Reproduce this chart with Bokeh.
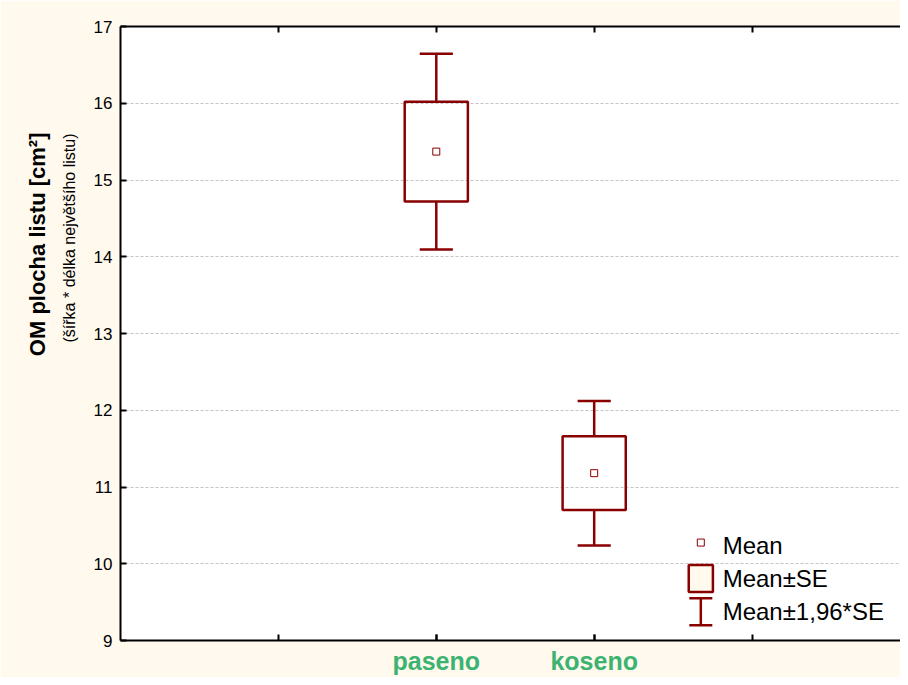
from bokeh.plotting import figure
from bokeh.models import Range1d, FixedTicker, LinearAxis, Title, ColumnDataSource
from bokeh.core.properties import value
from bokeh.embed import file_html
from bokeh.resources import INLINE

# ---- data ----
categories = ["paseno", "koseno"]
cat_positions = [2, 3]
means = [15.37, 11.18]
se = [0.65, 0.48]
y_ticks = [9, 10, 11, 12, 13, 14, 15, 16, 17]
x_minor_ticks = [1, 2, 3, 4]
legend_labels = ["Mean", "Mean±SE", "Mean±1,96*SE"]
y_title = "OM plocha listu [cm²]"
y_subtitle = "(šířka * délka největšího listu)"

# ---- styles ----
RED = "#880000"
CREAM = "#FFF9EE"
GREEN = "#3CB371"
FONT = "Liberation Sans"
BOX_W = 0.40
CAP_W = 0.21

se_lo = [m - s for m, s in zip(means, se)]
se_hi = [m + s for m, s in zip(means, se)]
ci_lo = [m - 1.96 * s for m, s in zip(means, se)]
ci_hi = [m + 1.96 * s for m, s in zip(means, se)]

src = ColumnDataSource(dict(
    x=cat_positions, mean=means, se_lo=se_lo, se_hi=se_hi, ci_lo=ci_lo, ci_hi=ci_hi,
    left=[c - BOX_W / 2 for c in cat_positions], right=[c + BOX_W / 2 for c in cat_positions],
    cap_l=[c - CAP_W / 2 for c in cat_positions], cap_r=[c + CAP_W / 2 for c in cat_positions],
))

p = figure(width=900, height=677, x_range=Range1d(0, 4.94), y_range=Range1d(9, 17),
           output_backend="svg", toolbar_location=None,
           min_border_left=120, min_border_right=0, min_border_top=26, min_border_bottom=36,
           background_fill_color="white", border_fill_color=CREAM)
p.outline_line_color = None

# grid
p.xgrid.visible = False
p.ygrid.ticker = FixedTicker(ticks=y_ticks)
p.ygrid.grid_line_color = "#C4C4C4"
p.ygrid.grid_line_dash = "3 2"
p.ygrid.grid_line_width = 1

# left axis
ya = p.yaxis[0]
ya.ticker = FixedTicker(ticks=y_ticks)
ya.axis_line_width = 2
ya.axis_line_color = "black"
ya.major_tick_in = 6
ya.major_tick_out = 0
ya.major_tick_line_width = 2
ya.minor_tick_line_color = None
ya.major_label_standoff = 8
ya.major_label_text_font = FONT
ya.major_label_text_font_size = "17px"
ya.major_label_text_color = "black"

# bottom axis
xa = p.xaxis[0]
xa.ticker = FixedTicker(ticks=cat_positions, minor_ticks=x_minor_ticks)
xa.major_label_overrides = {c: lab for c, lab in zip(cat_positions, categories)}
xa.axis_line_width = 2
xa.axis_line_color = "black"
xa.major_tick_in = 6
xa.major_tick_out = 0
xa.major_tick_line_width = 2
xa.minor_tick_in = 6
xa.minor_tick_out = 0
xa.minor_tick_line_width = 2
xa.minor_tick_line_color = "black"
xa.major_label_standoff = 6
xa.major_label_text_font = FONT
xa.major_label_text_font_size = "25px"
xa.major_label_text_font_style = "bold"
xa.major_label_text_color = GREEN

# top axis (ticks only, no labels)
top = LinearAxis(ticker=FixedTicker(ticks=[], minor_ticks=x_minor_ticks), axis_line_width=2,
                 axis_line_color="black", major_tick_line_color=None,
                 minor_tick_in=6, minor_tick_out=0, minor_tick_line_width=2,
                 minor_tick_line_color="black", major_label_standoff=0)
p.add_layout(top, "above")

# y titles (left panel; first added sits next to the axis)
p.add_layout(Title(text=y_subtitle, text_font=FONT, text_font_size="16px",
                   text_font_style="normal", text_color="black",
                   align="right", offset=107, standoff=26), "left")
p.add_layout(Title(text=y_title, text_font=FONT, text_font_size="22px",
                   text_font_style="bold", text_color="black",
                   align="right", offset=106, standoff=-8), "left")

# whiskers
p.segment(x0="x", y0="ci_lo", x1="x", y1="se_lo", source=src, line_color=RED, line_width=2.5)
p.segment(x0="x", y0="se_hi", x1="x", y1="ci_hi", source=src, line_color=RED, line_width=2.5)
p.segment(x0="cap_l", y0="ci_lo", x1="cap_r", y1="ci_lo", source=src, line_color=RED, line_width=2.5)
p.segment(x0="cap_l", y0="ci_hi", x1="cap_r", y1="ci_hi", source=src, line_color=RED, line_width=2.5)
# boxes
p.quad(left="left", right="right", bottom="se_lo", top="se_hi", source=src,
       fill_color=None, line_color=RED, line_width=2.5)
# means
p.scatter(x="x", y="mean", source=src, marker="square", size=7, fill_color="white",
          line_color=RED, line_width=1)

# ---- legend (drawn in plot space, positioned relative to the ranges) ----
xs, xe = p.x_range.start, p.x_range.end
ys, ye = p.y_range.start, p.y_range.end
LX = xs + 0.744 * (xe - xs)
TX = xs + 0.772 * (xe - xs)
ROWS = [ys + f * (ye - ys) for f in (0.1545, 0.101, 0.047)]
SW_W = 0.031 * (xe - xs)
SW_H = 0.044 * (ye - ys)

lsrc = ColumnDataSource(dict(x=[TX] * 3, y=ROWS, text=legend_labels))
p.text(x="x", y="y", text="text", source=lsrc, text_font=value(FONT), text_font_size="24px",
       text_align="left", text_baseline="middle", text_color="black")
p.scatter(x=[LX], y=[ROWS[0] + 0.04], marker="square", size=7, fill_color="white",
          line_color=RED, line_width=1)
p.quad(left=[LX - SW_W / 2], right=[LX + SW_W / 2], bottom=[ROWS[1] - SW_H / 2],
       top=[ROWS[1] + SW_H / 2], fill_color=CREAM, line_color=RED, line_width=2.5)
cw = SW_W * 0.95
p.segment(x0=[LX, LX - cw / 2, LX - cw / 2], y0=[ROWS[2] - SW_H / 2, ROWS[2] - SW_H / 2, ROWS[2] + SW_H / 2],
          x1=[LX, LX + cw / 2, LX + cw / 2], y1=[ROWS[2] + SW_H / 2, ROWS[2] - SW_H / 2, ROWS[2] + SW_H / 2],
          line_color=RED, line_width=2.5)

open("out.html", "w").write(file_html(p, INLINE))
